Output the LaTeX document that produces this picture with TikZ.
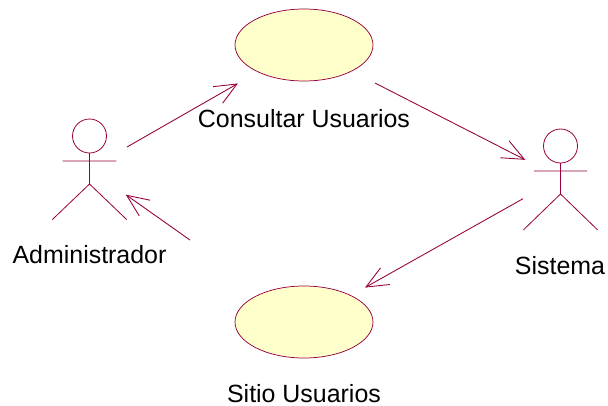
\documentclass[tikz,border=0pt]{standalone}
\usepackage{fontspec}
\setmainfont{Liberation Sans}
\usetikzlibrary{calc}
\definecolor{umlline}{RGB}{150,0,60}
\definecolor{umlfill}{RGB}{255,255,204}
\tikzset{x=0.75pt,y=-0.75pt,
  usecase/.style={draw=umlline,fill=umlfill,line width=0.55pt},
  limb/.style={draw=umlline,line width=0.6pt},
  assoc/.style={draw=umlline,line width=0.65pt},
  lbl/.style={inner sep=0pt,font=\fontsize{18.7pt}{22pt}\selectfont,text=black}}
\newcommand{\assocarrow}[2]{%
  \draw[assoc] (#1) -- (#2);
  \draw[assoc] ($(#2)!18pt!23.4:(#1)$) -- (#2) -- ($(#2)!18pt!-23.4:(#1)$);}
\begin{document}
\begin{tikzpicture}
\useasboundingbox (0,0) rectangle (608,405);
\fill[white] (0,0) rectangle (608,405);
\draw[usecase] (304,45) ellipse (69 and 36);
\draw[usecase] (304,322) ellipse (69 and 36);
\node[lbl] (uc1) at (304,119) {Consultar Usuarios};
\node[lbl] (uc2) at (304,394) {Sitio Usuarios};
\node[lbl] (a1) at (89.5,254.7) {Administrador};
\node[lbl] (a2) at (560,265.7) {Sistema};
% actor 1
\draw[limb] (89.5,136) circle (17);
\draw[limb] (89.5,153) -- (89.5,184) (62.7,161) -- (116.3,161) (52.3,219.6) -- (89.5,184) -- (126.7,219.6);
% actor 2
\draw[limb] (560.5,146) circle (17);
\draw[limb] (560.5,163) -- (560.5,194) (534,171) -- (587,171) (523.3,230) -- (560.5,194) -- (597.7,230);
\coordinate (c1) at (127,147);\coordinate (c2) at (237,84);
\coordinate (c3) at (375,83);\coordinate (c4) at (524.3,159.3);
\coordinate (c5) at (523,198.7);\coordinate (c6) at (366,287);
\coordinate (c7) at (190,240);\coordinate (c8) at (126.7,195.3);
\assocarrow{c1}{c2}
\assocarrow{c3}{c4}
\assocarrow{c5}{c6}
\assocarrow{c7}{c8}
\end{tikzpicture}
\end{document}
